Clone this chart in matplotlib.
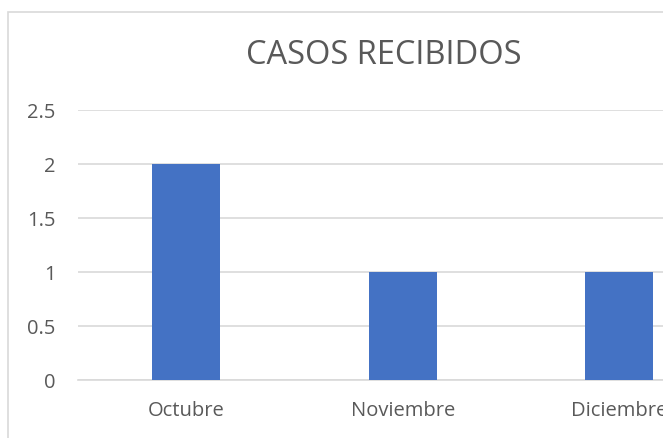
import matplotlib
matplotlib.use('Agg')
import matplotlib.pyplot as plt
from matplotlib.patches import Rectangle
from matplotlib.ticker import FuncFormatter

meses = ['Octubre', 'Noviembre', 'Diciembre']
casos = [2, 1, 1]
y_ticks = [0, 0.5, 1, 1.5, 2, 2.5]

plt.rcParams['font.family'] = ['Open Sans', 'DejaVu Sans']

W, H = 663, 439
fig = plt.figure(figsize=(W / 100, H / 100), dpi=100)
fig.patch.set_facecolor('white')

# borde del gráfico (recortado a la derecha y abajo)
fig.patches.append(Rectangle((7.5 / W, -0.1), 1.2, (H - 12.5) / H + 0.1,
                             transform=fig.transFigure, fill=False,
                             edgecolor='#d9d9d9', lw=1.2))

# área del gráfico: 0 en y=380.5 px, 2.5 en y=111 px, inicio en x=78 px
ax = fig.add_axes([78 / W, (H - 380.5) / H, (W - 78) / W, (380.5 - 111) / H])
paso = 216.6
ax.set_xlim(-0.5, -0.5 + (W - 78) / paso)
ax.set_ylim(0, 2.5)

ax.bar(range(len(meses)), casos, width=68 / paso, color='#4472c4', zorder=3)

ax.set_yticks(y_ticks)
ax.yaxis.set_major_formatter(FuncFormatter(lambda v, p: f'{v:g}'))
ax.set_xticks(range(len(meses)))
ax.set_xticklabels(meses)
ax.grid(axis='y', color='#d9d9d9', lw=1.2, zorder=0)
ax.tick_params(length=0, labelsize=14.5, colors='#595959')
ax.tick_params(axis='y', pad=16)
ax.tick_params(axis='x', pad=15)
for s in ['top', 'right', 'left']:
    ax.spines[s].set_visible(False)
ax.spines['bottom'].set_color('#d9d9d9')
ax.spines['bottom'].set_linewidth(1.2)

fig.text(383.5 / W, (H - 55) / H, 'CASOS RECIBIDOS', ha='center', va='center',
         fontsize=23.5, color='#595959')

fig.savefig('out.png', dpi=100)
